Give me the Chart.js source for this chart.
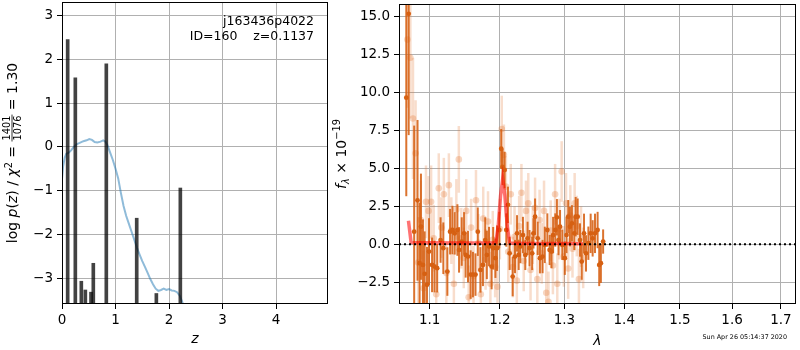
<!DOCTYPE html>
<html>
<head>
<meta charset="utf-8">
<script src="https://cdn.jsdelivr.net/npm/chart.js@4.4.1/dist/chart.umd.min.js"></script>
<style>
  body { margin: 0; background: #fff; width: 800px; height: 350px; overflow: hidden; position: relative; }
  canvas { position: absolute; top: 0; }
  #pz { left: 0; }
  #spec { left: 330px; }
</style>
</head>
<body>
<canvas id="pz" width="330" height="350"></canvas>
<canvas id="spec" width="470" height="350"></canvas>
<script>
// ---- left panel: p(z) ----
var pzZ = [0.00, 0.02, 0.05, 0.08, 0.12, 0.17, 0.22, 0.27, 0.33, 0.40, 0.46, 0.51, 0.56, 0.61, 0.66, 0.72, 0.77, 0.81, 0.85,
           0.90, 0.95, 1.00, 1.05, 1.10, 1.15, 1.20, 1.25, 1.30, 1.35, 1.40, 1.45, 1.50, 1.55, 1.60, 1.65, 1.70, 1.75,
           1.80, 1.85, 1.90, 1.95, 2.00, 2.05, 2.10, 2.15, 2.20, 2.25, 2.30];
var pzLog = [-0.74, -0.45, -0.25, -0.16, -0.14, -0.08, 0.00, 0.06, 0.09, 0.13, 0.15, 0.18, 0.16, 0.11, 0.10, 0.12, 0.15, 0.12, 0.04,
             -0.13, -0.30, -0.50, -0.72, -1.05, -1.35, -1.58, -1.76, -1.94, -2.12, -2.30, -2.46, -2.61, -2.74, -2.88, -3.02, -3.14, -3.24,
             -3.29, -3.27, -3.24, -3.27, -3.25, -3.28, -3.29, -3.32, -3.40, -3.55, -3.75];
var peakZ = [0.106, 0.249, 0.361, 0.436, 0.542, 0.585, 0.828, 1.396, 1.763, 2.211];
var peakLogP = [2.45, 1.58, -3.07, -3.27, -3.32, -2.66, 1.90, -1.63, -3.35, -0.94];
var zTicks = [0, 1, 2, 3, 4];
var logPTicks = [-3, -2, -1, 0, 1, 2, 3];
var Z_MIN = 0, Z_MAX = 4.97, LOGP_MIN = -3.59, LOGP_MAX = 3.31;

// ---- right panel: spectrum ----
var darkLam = [1.0686, 1.0718, 1.0791, 1.0836, 1.0864, 1.0882, 1.0909, 1.0932, 1.0964, 1.0991,
               1.1033, 1.1066, 1.1103, 1.1150, 1.1188, 1.1244, 1.1282, 1.1315, 1.1347, 1.1385,
               1.1408, 1.1446, 1.1479, 1.1502, 1.1535, 1.1573, 1.1606, 1.1643, 1.1676, 1.1714,
               1.1751, 1.1784, 1.1808, 1.1840, 1.1878, 1.1901, 1.1934, 1.1958, 1.1991, 1.2020,
               1.2040, 1.2071, 1.2096, 1.2121, 1.2146, 1.2192, 1.2227, 1.2258, 1.2283, 1.2308,
               1.2348, 1.2384, 1.2419, 1.2449, 1.2490, 1.2510, 1.2535, 1.2576, 1.2611, 1.2652,
               1.2687, 1.2727, 1.2763, 1.2793, 1.2818, 1.2853, 1.2879, 1.2904, 1.2929, 1.2965,
               1.3006, 1.3033, 1.3061, 1.3088, 1.3121, 1.3160, 1.3182, 1.3215, 1.3253, 1.3281,
               1.3319, 1.3352, 1.3391, 1.3429, 1.3462, 1.3501, 1.3545, 1.3572, 1.3600, 1.3638];
var darkFlux = [9.67, 15.2, 0.83, 2.90, -1.25, 1.16, -1.36, -1.95, -2.67, -0.48,
                -1.36, -1.47, -1.58, 0.28, -0.26, -1.80, 0.83, 0.94, 0.72, 0.94,
                -0.37, 0.18, 0.72, -0.70, -0.81, -2.00, -2.00, -2.00, 0.83, -1.69,
                -1.36, 0.28, -0.70, -0.15, -1.47, -0.26, -0.92, -0.26, 0.94, 6.30,
                5.10, 4.90, 0.94, 2.60, -0.60, -2.13, -0.81, 0.72, -0.70, -0.15,
                0.61, -0.70, 0.39, -0.26, -0.60, 0.72, 1.82, 0.39, -0.92, -0.81,
                -0.04, 0.94, -0.37, -0.48, 0.61, 0.94, 1.78, 0.28, 1.16, -0.04,
                -0.92, 0.61, 1.82, 1.16, 1.38, 0.72, 1.82, 1.82, 0.28, -1.14,
                0.72, -0.60, 0.07, 0.72, 0.39, 0.72, 0.94, -1.36, -1.25, 0.18];
var darkErr = [6.5, 8.0, 7.0, 5.3, 4.0, 3.5, 3.0, 2.8, 2.5, 2.2,
               1.8, 1.7, 1.6, 1.5, 1.7, 1.6, 1.5, 1.6, 1.4, 1.7,
               1.5, 1.6, 1.4, 1.5, 1.7, 1.6, 1.5, 1.4, 1.6, 1.5,
               1.4, 1.5, 1.6, 1.3, 1.5, 1.4, 1.3, 1.5, 1.2, 1.3,
               1.2, 1.2, 1.1, 1.2, 1.1, 1.3, 1.1, 1.2, 1.0, 1.1,
               1.2, 1.0, 1.1, 1.2, 1.1, 1.0, 1.2, 1.1, 1.0, 1.1,
               1.2, 1.1, 1.0, 1.1, 1.2, 1.1, 1.2, 1.0, 1.1, 1.0,
               1.1, 1.2, 1.1, 1.3, 1.2, 1.1, 1.3, 1.2, 1.1, 1.2,
               1.3, 1.2, 1.1, 1.3, 1.2, 1.3, 1.2, 1.4, 1.3, 0.8];
var lightLam = [1.0700, 1.0740, 1.0775, 1.0810, 1.0845, 1.0880, 1.0915, 1.0950, 1.0985, 1.1020,
                1.1055, 1.1090, 1.1125, 1.1160, 1.1195, 1.1230, 1.1265, 1.1300, 1.1335, 1.1370,
                1.1405, 1.1440, 1.1475, 1.1510, 1.1545, 1.1580, 1.1615, 1.1650, 1.1685, 1.1720,
                1.1755, 1.1790, 1.1825, 1.1860, 1.1895, 1.1930, 1.1965, 1.2000, 1.2028, 1.2060,
                1.2090, 1.2125, 1.2163, 1.2195, 1.2220, 1.2255, 1.2290, 1.2325, 1.2360, 1.2395,
                1.2430, 1.2465, 1.2500, 1.2535, 1.2570, 1.2605, 1.2640, 1.2675, 1.2710, 1.2745,
                1.2780, 1.2815, 1.2850, 1.2885, 1.2920, 1.2955, 1.2990, 1.3025, 1.3060, 1.3095,
                1.3130, 1.3165, 1.3200, 1.3235, 1.3270, 1.3305];
var lightFlux = [13.5, 12.3, 8.3, 6.0, -1.2, 1.6, -2.9, 2.8, 2.2, 2.8,
                 0.4, -3.3, 3.7, 1.1, 3.3, -1.9, 3.9, 0.9, -2.6, 2.3,
                 5.6, 0.4, -0.9, 2.2, -3.5, 1.1, -2.1, 2.9, 0.1, -3.3,
                 1.7, -1.0, 1.5, -2.6, 0.3, -1.5, -2.8, 1.0, 7.6, 5.9,
                 3.8, -0.5, 3.3, -1.5, 0.5, -2.4, 1.2, 3.4, -1.1, 2.2,
                 2.7, -1.7, 0.6, 2.4, -2.3, 1.6, -0.6, 2.2, -3.2, -3.8,
                 0.9, -1.4, 3.3, -2.6, 1.0, 4.8, -0.8, 2.7, -1.6, 1.9,
                 -0.3, 2.7, 1.2, -2.3, 0.5, -0.9];
var lightErr = [4.5, 4.0, 4.0, 3.5, 3.0, 2.6, 2.5, 2.4, 2.3, 2.4,
                2.2, 2.0, 2.3, 2.0, 2.4, 2.0, 2.1, 2.2, 2.0, 2.0,
                2.2, 2.0, 2.0, 2.1, 2.1, 1.9, 2.0, 2.0, 1.9, 2.0,
                2.1, 2.0, 2.0, 2.1, 1.9, 2.0, 1.8, 2.0, 2.2, 2.0,
                2.0, 2.0, 2.0, 2.0, 2.0, 2.0, 2.0, 1.9, 2.0, 2.0,
                2.0, 2.0, 1.9, 2.0, 1.9, 2.0, 2.0, 2.0, 2.0, 2.0,
                2.0, 1.9, 2.0, 2.0, 2.0, 2.0, 2.0, 2.0, 2.0, 2.0,
                1.9, 2.0, 2.0, 2.0, 2.0, 2.0];
var modelLam = [1.0715, 1.0750, 1.0800, 1.1000, 1.1500, 1.1900, 1.1940, 1.1975, 1.2010, 1.2042,
                1.2075, 1.2110, 1.2145, 1.2200, 1.2600, 1.3000, 1.3300];
var modelFlux = [1.55, 0.12, 0.10, 0.10, 0.09, 0.10, 0.12, 1.20, 3.20, 4.30,
                 3.20, 1.20, 0.10, 0.06, 0.05, 0.05, 0.04];
var lamTicks = [1.1, 1.2, 1.3, 1.4, 1.5, 1.6, 1.7];
var fluxTicks = [-2.5, 0, 2.5, 5, 7.5, 10, 12.5, 15];
var LAM_MIN = 1.059, LAM_MAX = 1.732, FLUX_MIN = -3.94, FLUX_MAX = 15.85;

var FAM = "'DejaVu Sans'";
function fnt(size, italic) { return (italic ? 'italic ' : '') + size + 'px ' + FAM; }
function minus(s) { return String(s).replace('-', '\u2212'); }
function pts(xs, ys) { return xs.map(function(x, i) { return {x: x, y: ys[i]}; }); }

Chart.defaults.color = '#000';
Chart.defaults.font.family = FAM;
Chart.defaults.font.size = 13.5;

var gridOpts = {color: '#b0b0b0', lineWidth: 1, tickColor: '#000', tickLength: 5, tickWidth: 1, offset: false};

// vertical axes: no extra room for half tick labels, plot box fixed by layout padding
function fixY(width) {
    return function(s) { s.width = width; s.paddingTop = 0; s.paddingBottom = 0; };
}

// matplotlib style box around the axes
var framePlugin = {
    id: 'frame',
    afterDraw: function(chart) {
        var a = chart.chartArea, ctx = chart.ctx;
        ctx.save();
        ctx.strokeStyle = '#000';
        ctx.lineWidth = 1;
        ctx.strokeRect(Math.round(a.left) + 0.5, Math.round(a.top) + 0.5,
                       Math.round(a.right - a.left) - 1, Math.round(a.bottom - a.top) - 1);
        ctx.restore();
    }
};

// draw a run of text pieces [text, size, italic, dy]; 'FRAC' is a stacked fraction
function drawPieces(ctx, parts, frac) {
    function fracWidth() {
        ctx.font = fnt(frac.size, false);
        return Math.max(ctx.measureText(frac.num).width, ctx.measureText(frac.den).width) + 2;
    }
    var total = 0;
    parts.forEach(function(p) {
        if (p === 'FRAC') {
            total += fracWidth();
        } else {
            ctx.font = fnt(p[1], p[2]);
            total += ctx.measureText(p[0]).width;
        }
    });
    var x = -total / 2;
    ctx.textBaseline = 'alphabetic';
    ctx.textAlign = 'left';
    parts.forEach(function(p) {
        if (p === 'FRAC') {
            var fw = fracWidth();
            ctx.textAlign = 'center';
            ctx.fillText(frac.num, x + fw / 2, -7.5);
            ctx.fillText(frac.den, x + fw / 2, 4);
            ctx.fillRect(x, -5.4, fw, 0.8);
            ctx.textAlign = 'left';
            x += fw;
        } else {
            ctx.font = fnt(p[1], p[2]);
            ctx.fillText(p[0], x, p[3]);
            x += ctx.measureText(p[0]).width;
        }
    });
}

var pzText = {
    id: 'pzText',
    afterDraw: function(chart) {
        var ctx = chart.ctx, a = chart.chartArea;
        ctx.save();
        ctx.fillStyle = '#000';
        ctx.font = fnt(12.5, false);
        ctx.textAlign = 'right';
        ctx.fillText('j163436p4022', 314, 25);
        ctx.fillText('ID=160    z=0.1137', 314, 39.5);
        ctx.font = fnt(14, true);
        ctx.textAlign = 'center';
        ctx.fillText('z', (a.left + a.right) / 2, 343);
        ctx.translate(17, (a.top + a.bottom) / 2);
        ctx.rotate(-Math.PI / 2);
        drawPieces(ctx, [['log ', 14, false, 0], ['p', 14, true, 0], ['(', 14, false, 0], ['z', 14, true, 0],
                         [') / ', 14, false, 0], ['\u03c7', 14, true, 0], ['2', 9.8, false, -5.5],
                         [' = ', 14, false, 0], 'FRAC', [' = 1.30', 14, false, 0]],
                   {num: '1401', den: '1076', size: 9.8});
        ctx.restore();
    }
};

var specText = {
    id: 'specText',
    afterDraw: function(chart) {
        var ctx = chart.ctx, a = chart.chartArea;
        ctx.save();
        ctx.fillStyle = '#000';
        ctx.font = fnt(14, true);
        ctx.textAlign = 'center';
        ctx.fillText('\u03bb', (a.left + a.right) / 2, 345);
        ctx.font = fnt(6.4, false);
        ctx.textAlign = 'right';
        ctx.fillText('Sun Apr 26 05:14:37 2020', 457, 338.5);
        ctx.translate(16, (a.top + a.bottom) / 2);
        ctx.rotate(-Math.PI / 2);
        drawPieces(ctx, [['f', 14, true, 0], ['\u03bb', 9.8, true, 3], [' \u00d7 10', 14, false, 0],
                         ['\u221219', 9.8, false, -6]], null);
        ctx.restore();
    }
};

// vertical error bars, drawn just before each dataset's own points
var errorBars = {
    id: 'errorBars',
    beforeDatasetDraw: function(chart, args) {
        var ds = chart.data.datasets[args.index];
        if (!ds.errors) return;
        var ctx = chart.ctx, a = chart.chartArea;
        var xs = chart.scales.x, ys = chart.scales.y;
        ctx.save();
        ctx.beginPath();
        ctx.rect(a.left, a.top, a.right - a.left, a.bottom - a.top);
        ctx.clip();
        ctx.strokeStyle = ds.errColor;
        ctx.lineWidth = ds.errWidth;
        ds.data.forEach(function(p, i) {
            var px = xs.getPixelForValue(p.x);
            ctx.beginPath();
            ctx.moveTo(px, ys.getPixelForValue(p.y - ds.errors[i]));
            ctx.lineTo(px, ys.getPixelForValue(p.y + ds.errors[i]));
            ctx.stroke();
        });
        ctx.restore();
    }
};

new Chart(document.getElementById('pz'), {
    type: 'line',
    data: {
        datasets: [{
            type: 'bar',
            data: peakZ.map(function(z, i) { return {x: z, y: [LOGP_MIN, peakLogP[i]]}; }),
            backgroundColor: 'rgba(0,0,0,0.74)',
            borderWidth: 0,
            barThickness: 3,
            order: 0
        }, {
            type: 'line',
            data: pts(pzZ, pzLog),
            borderColor: 'rgba(31,119,180,0.5)',
            borderWidth: 2,
            pointRadius: 0,
            tension: 0,
            order: 1
        }]
    },
    options: {
        responsive: false,
        animation: false,
        devicePixelRatio: 1,
        layout: {padding: {top: 2, right: 2, left: 0, bottom: 0}},
        plugins: {legend: {display: false}, tooltip: {enabled: false}},
        scales: {
            x: {
                type: 'linear', min: Z_MIN, max: Z_MAX, offset: false,
                afterBuildTicks: function(s) { s.ticks = zTicks.map(function(v) { return {value: v}; }); },
                afterFit: function(s) { s.height = 46; },
                ticks: {padding: 3, maxRotation: 0, autoSkip: false, callback: function(v) { return minus(v); }},
                grid: gridOpts,
                border: {display: false}
            },
            y: {
                type: 'linear', min: LOGP_MIN, max: LOGP_MAX,
                afterBuildTicks: function(s) { s.ticks = logPTicks.map(function(v) { return {value: v}; }); },
                afterFit: fixY(62),
                ticks: {padding: 4, autoSkip: false, callback: function(v) { return minus(v); }},
                grid: gridOpts,
                border: {display: false}
            }
        }
    },
    plugins: [framePlugin, pzText]
});

new Chart(document.getElementById('spec'), {
    type: 'scatter',
    data: {
        datasets: [{
            type: 'line',
            data: [{x: LAM_MIN, y: 0}, {x: LAM_MAX, y: 0}],
            borderColor: '#000',
            borderWidth: 2,
            borderDash: [2, 3],
            pointRadius: 0,
            order: 0
        }, {
            type: 'line',
            data: pts(modelLam, modelFlux),
            borderColor: 'rgba(255,0,0,0.55)',
            borderWidth: 3.5,
            pointRadius: 0,
            tension: 0,
            order: 1
        }, {
            data: pts(darkLam, darkFlux),
            errors: darkErr,
            errColor: 'rgba(214,96,18,0.88)',
            errWidth: 2,
            pointRadius: 2.4,
            pointBackgroundColor: 'rgb(214,96,18)',
            pointBorderWidth: 0,
            order: 2
        }, {
            data: pts(lightLam, lightFlux),
            errors: lightErr,
            errColor: 'rgba(228,120,50,0.25)',
            errWidth: 2.5,
            pointRadius: 3.3,
            pointBackgroundColor: 'rgba(228,120,50,0.3)',
            pointBorderWidth: 0,
            order: 3
        }]
    },
    options: {
        responsive: false,
        animation: false,
        devicePixelRatio: 1,
        layout: {padding: {top: 2, right: 1, left: 0, bottom: 0}},
        plugins: {legend: {display: false}, tooltip: {enabled: false}},
        scales: {
            x: {
                type: 'logarithmic', min: LAM_MIN, max: LAM_MAX,
                afterBuildTicks: function(s) { s.ticks = lamTicks.map(function(v) { return {value: v}; }); },
                afterFit: function(s) { s.height = 46; },
                ticks: {padding: 3, maxRotation: 0, autoSkip: false, callback: function(v) { return Number(v).toFixed(1); }},
                grid: gridOpts,
                border: {display: false}
            },
            y: {
                type: 'linear', min: FLUX_MIN, max: FLUX_MAX,
                afterBuildTicks: function(s) { s.ticks = fluxTicks.map(function(v) { return {value: v}; }); },
                afterFit: fixY(69),
                ticks: {padding: 4, autoSkip: false, callback: function(v) { return minus(Number(v).toFixed(1)); }},
                grid: gridOpts,
                border: {display: false}
            }
        }
    },
    plugins: [framePlugin, specText, errorBars]
});
</script>
</body>
</html>
